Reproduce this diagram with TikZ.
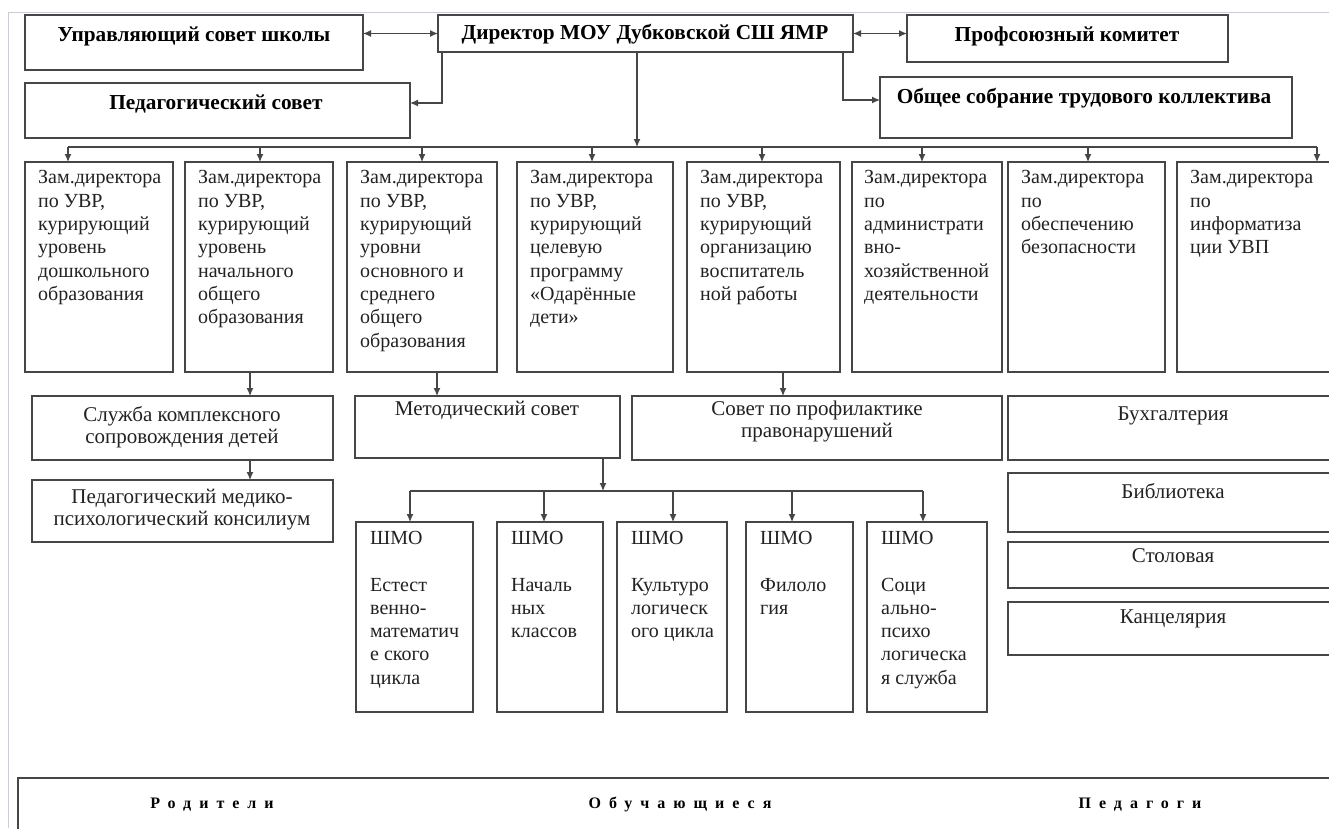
\documentclass[tikz,border=0pt]{standalone}
\usepackage{fontspec}
\setmainfont{Liberation Serif}
\usetikzlibrary{arrows.meta,calc}
\definecolor{lncol}{HTML}{464646}
\definecolor{txcol}{HTML}{222222}
\definecolor{pgcol}{HTML}{C9CDD6}
\newcommand\mybox[5]{\node[box,minimum width={(#4-#2)*1pt},minimum height={(#5-#3)*1pt}] (#1) at (#2,#3) {};}
\begin{document}
\begin{tikzpicture}[x=1pt,y=-1pt,
  box/.style={draw=lncol,line width=1.5pt,inner sep=0pt,outer sep=0pt,anchor=north west},
  ztxt/.style={anchor=north west,inner sep=0pt,align=left,text=txcol,font=\fontsize{20}{23.3}\selectfont},
  ctxt/.style={anchor=north,inner sep=0pt,align=center,text=txcol,font=\fontsize{21}{22}\selectfont},
  cbase/.style={anchor=base,inner sep=0pt,text=txcol,font=\fontsize{21}{22}\selectfont},
  btxt/.style={anchor=base,inner sep=0pt,text=black,font=\bfseries\fontsize{21.3}{22}\selectfont},
  ltxt/.style={anchor=base,inner sep=0pt,text=black,font=\bfseries\fontsize{16}{18}\selectfont\addfontfeatures{LetterSpace=50}},
  arr/.style={draw=lncol,line width=1.2pt,-{Latex[length=8pt,width=7pt]}},
  darr/.style={draw=lncol,line width=1.2pt,{Latex[length=8pt,width=7pt]}-{Latex[length=8pt,width=7pt]}},
  wire/.style={draw=lncol,line width=1.2pt}]
\useasboundingbox (0,0) rectangle (1329,828);
\clip (0,0) rectangle (1329,828);
\fill[white] (0,0) rectangle (1329,828);
% page frame
\draw[pgcol,line width=1pt] (8,828) -- (8,12) -- (1329,12);

% top level
\mybox{upr}{25}{15}{363}{70}
\mybox{ped}{25}{83}{410}{138}
\mybox{dir}{438}{15}{853}{52}
\mybox{prof}{907}{15}{1228}{62}
\mybox{obs}{880}{77}{1292}{138}
\node[btxt] (uprt) at (194,41) {Управляющий совет школы};
\node[btxt] (pedt) at (216,109) {Педагогический совет};
\node[btxt] (dirt) at (645,39) {Директор МОУ Дубковской СШ ЯМР};
\node[btxt] (proft) at (1067,41) {Профсоюзный комитет};
\node[btxt] (obst) at (1084,103) {Общее собрание трудового коллектива};

% deputies
\mybox{z1}{25}{162}{173}{372}
\mybox{z2}{185}{162}{333}{372}
\mybox{z3}{347}{162}{497}{372}
\mybox{z4}{517}{162}{673}{372}
\mybox{z5}{687}{162}{840}{372}
\mybox{z6}{852}{162}{1002}{372}
\mybox{z7}{1008}{162}{1165}{372}
\mybox{z8}{1177}{162}{1345}{372}
\node[ztxt] (z1t) at (38,170.5) {Зам.директора\\по УВР,\\курирующий\\уровень\\дошкольного\\образования};
\node[ztxt] (z2t) at (198,170.5) {Зам.директора\\по УВР,\\курирующий\\уровень\\начального\\общего\\образования};
\node[ztxt] (z3t) at (360,170.5) {Зам.директора\\по УВР,\\курирующий\\уровни\\основного и\\среднего\\общего\\образования};
\node[ztxt] (z4t) at (530,170.5) {Зам.директора\\по УВР,\\курирующий\\целевую\\программу\\«Одарённые\\дети»};
\node[ztxt] (z5t) at (700,170.5) {Зам.директора\\по УВР,\\курирующий\\организацию\\воспитатель\\ной работы};
\node[ztxt] (z6t) at (864,170.5) {Зам.директора\\по\\администрати\\вно-\\хозяйственной\\деятельности};
\node[ztxt] (z7t) at (1021,170.5) {Зам.директора\\по\\обеспечению\\безопасности};
\node[ztxt] (z8t) at (1190,170.5) {Зам.директора\\по\\информатиза\\ции УВП};

% middle row
\mybox{slu}{32}{396}{333}{460}
\mybox{met}{355}{396}{620}{458}
\mybox{sov}{632}{396}{1002}{460}
\mybox{buh}{1008}{396}{1345}{460}
\mybox{pmpk}{32}{480}{333}{542}
\mybox{bib}{1008}{473}{1345}{532}
\mybox{sto}{1008}{542}{1345}{588}
\mybox{kan}{1008}{602}{1345}{655}
\node[ctxt] (slut) at (182,406) {Служба комплексного\\сопровождения детей};
\node[cbase] (mett) at (487,415) {Методический совет};
\node[ctxt] (sovt) at (817,401) {Совет по профилактике\\правонарушений};
\node[cbase] (buht) at (1173,420) {Бухгалтерия};
\node[ctxt] (pmpkt) at (182,489) {Педагогический медико-\\психологический консилиум};
\node[cbase] (bibt) at (1173,498) {Библиотека};
\node[cbase] (stot) at (1173,562) {Столовая};
\node[cbase] (kant) at (1173,623) {Канцелярия};

% SHMO
\mybox{s1}{356}{522}{473}{712}
\mybox{s2}{497}{522}{603}{712}
\mybox{s3}{617}{522}{727}{712}
\mybox{s4}{746}{522}{853}{712}
\mybox{s5}{867}{522}{987}{712}
\node[ztxt] (s1t) at (370,531) {ШМО\\[23.3pt]Естест\\венно-\\математич\\е ского\\цикла};
\node[ztxt] (s2t) at (511,531) {ШМО\\[23.3pt]Началь\\ных\\классов};
\node[ztxt] (s3t) at (631,531) {ШМО\\[23.3pt]Культуро\\логическ\\ого цикла};
\node[ztxt] (s4t) at (760,531) {ШМО\\[23.3pt]Филоло\\гия};
\node[ztxt] (s5t) at (881,531) {ШМО\\[23.3pt]Соци\\ально-\\психо\\логическа\\я служба};

% bottom band
\draw[lncol,line width=2pt] (1345,778) -- (18,778) -- (18,840);
\node[ltxt] (rod) at (212,808) {Родители};
\node[ltxt] (obu) at (680,808) {Обучающиеся};
\node[ltxt] (pedg) at (1140,808) {Педагоги};

% connectors top
\draw[darr] (upr.east |- dir.west) -- (dir.west);
\draw[darr] (dir.east) -- (prof.west |- dir.east);
\coordinate (dp) at (442,103);
\draw[arr] (dir.south -| dp) -- (dp) -- (ped.east |- dp);
\coordinate (do) at (843,100);
\draw[arr] (dir.south -| do) -- (do) -- (obs.west |- do);
\coordinate (bc) at (637,147);
\draw[arr] (dir.south -| bc) -- (bc);
\coordinate (b1) at (68,147);
\coordinate (b2) at (260,147);
\coordinate (b3) at (422,147);
\coordinate (b4) at (592,147);
\coordinate (b5) at (762,147);
\coordinate (b6) at (922,147);
\coordinate (b7) at (1088,147);
\coordinate (b8) at (1317,147);
\draw[wire] (b1) -- (b8);
\foreach \i in {1,...,8} {\draw[arr] (b\i) -- (z\i.north -| b\i);}

% deputies to councils
\coordinate (c2) at (250,0);
\coordinate (c3) at (437,0);
\coordinate (c5) at (783,0);
\draw[arr] (z2.south -| c2) -- (slu.north -| c2);
\draw[arr] (z3.south -| c3) -- (met.north -| c3);
\draw[arr] (z5.south -| c5) -- (sov.north -| c5);
\draw[arr] (slu.south -| c2) -- (pmpk.north -| c2);

% methodical council to SHMO
\coordinate (mc) at (603,491);
\draw[arr] (met.south -| mc) -- (mc);
\coordinate (m1) at (410,491);
\coordinate (m2) at (544,491);
\coordinate (m3) at (673,491);
\coordinate (m4) at (792,491);
\coordinate (m5) at (923,491);
\draw[wire] (m1) -- (m5);
\foreach \i in {1,...,5} {\draw[arr] (m\i) -- (s\i.north -| m\i);}
\end{tikzpicture}
\end{document}
